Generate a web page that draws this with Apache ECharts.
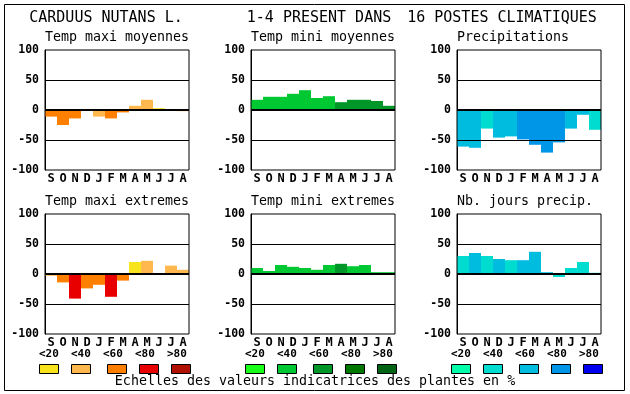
<!DOCTYPE html>
<html>
<head>
<meta charset="utf-8">
<script src="https://cdn.jsdelivr.net/npm/echarts@6/dist/echarts.min.js"></script>
<style>
html,body{margin:0;padding:0;background:#fff;}
#chart{width:630px;height:394px;}
</style>
</head>
<body>
<div id="chart"></div>
<script>
// ---- data ----
const months = ['S','O','N','D','J','F','M','A','M','J','J','A'];
const classLabels = ['<20','<40','<60','<80','>80'];
const mainTitles = ['CARDUUS NUTANS L.', '1-4 PRESENT DANS', '16 POSTES CLIMATIQUES'];
const panelTitles = ['Temp maxi moyennes','Temp mini moyennes','Precipitations',
                     'Temp maxi extremes','Temp mini extremes','Nb. jours precip.'];
const footNote = 'Echelles des valeurs indicatrices des plantes en %';

const tmaxMoy    = [-11,-25,-14,0,-11,-14,-4,7,17,3,0,-2];
const tmaxMoyCls = [2,2,2,0,1,2,2,1,1,0,0,1];
const tminMoy    = [17,22,22,27,33,20,23,13,17,17,15,7];
const tminMoyCls = [1,1,1,1,1,1,1,2,2,2,2,2];
const precip     = [-61,-63,-31,-46,-44,-49,-58,-71,-54,-31,-8,-33];
const precipCls  = [2,2,1,2,2,3,3,3,3,2,2,1];
const tmaxExt    = [-3,-14,-41,-24,-18,-38,-11,20,22,0,14,7];
const tmaxExtCls = [1,2,3,2,2,3,2,0,1,0,1,1];
const tminExt    = [10,5,15,12,10,7,15,17,13,15,3,3];
const tminExtCls = [1,1,1,1,1,1,1,2,1,1,1,1];
const nbJours    = [30,35,30,25,23,23,37,3,-5,10,20,2];
const nbJoursCls = [1,2,1,2,1,2,2,2,1,1,1,1];

// ---- styles ----
const warm  = ['#f8e41c','#ffb84d','#ff8000','#e80000','#b01000'];
const green = ['#1aff1a','#00c832','#009628','#007800','#006414'];
const blue  = ['#00ffaa','#00dcd0','#00bde0','#0096e8','#0000f0'];
const FONT = '"DejaVu Sans Mono", monospace';

const panels = [
  {vals: tmaxMoy, cls: tmaxMoyCls, pal: warm},
  {vals: tminMoy, cls: tminMoyCls, pal: green},
  {vals: precip,  cls: precipCls,  pal: blue},
  {vals: tmaxExt, cls: tmaxExtCls, pal: warm},
  {vals: tminExt, cls: tminExtCls, pal: green},
  {vals: nbJours, cls: nbJoursCls, pal: blue}
];
const colLeft = [45, 251, 457];
const rowTop = [50, 214];
const PW = 144, PH = 120;

const grids = [], xAxes = [], yAxes = [], series = [];
panels.forEach((p, i) => {
  const c = i % 3, r = Math.floor(i / 3);
  grids.push({left: colLeft[c], top: rowTop[r], width: PW, height: PH,
    show: true, borderColor: '#000', borderWidth: 1, backgroundColor: 'transparent', z: 5});
  xAxes.push({type: 'category', gridIndex: i, data: months,
    axisLine: {show: false}, axisTick: {show: false},
    axisLabel: {interval: 0, margin: 3, color: '#000', fontFamily: FONT, fontWeight: 'bold', fontSize: 12}});
  yAxes.push({type: 'value', gridIndex: i, min: -100, max: 100, interval: 50,
    axisLine: {show: true, lineStyle: {color: '#000', width: 1}}, axisTick: {show: false},
    splitLine: {show: false},
    axisLabel: {margin: 6, color: '#000', fontFamily: FONT, fontWeight: 'bold', fontSize: 11.5}});
  series.push({type: 'bar', xAxisIndex: i, yAxisIndex: i, barCategoryGap: 0,
    data: p.vals.map((v, k) => ({value: v, itemStyle: {color: p.pal[p.cls[k]]}})),
    markLine: {silent: true, symbol: 'none', animation: false, label: {show: false},
      lineStyle: {color: '#000', type: 'solid', width: 1},
      data: [{yAxis: 50}, {yAxis: 0, lineStyle: {color: '#000', type: 'solid', width: 2}}, {yAxis: -50}]}
  });
});

const graphics = [];
graphics.push({type: 'rect', shape: {x: 4.5, y: 4.5, width: 620, height: 386},
  style: {fill: 'none', stroke: '#000', lineWidth: 1}});
const titleX = [106, 319, 502];
mainTitles.forEach((t, i) => graphics.push({type: 'text', x: titleX[i], y: 18,
  style: {text: t, font: '15px ' + FONT, fill: '#000', align: 'center', verticalAlign: 'middle',
          textAlign: 'center', textVerticalAlign: 'middle'}}));
panelTitles.forEach((t, i) => {
  const c = i % 3, r = Math.floor(i / 3);
  graphics.push({type: 'text', x: colLeft[c], y: rowTop[r] - 12,
    style: {text: t, font: '13.3px ' + FONT, fill: '#000', align: 'left', verticalAlign: 'middle',
            textAlign: 'left', textVerticalAlign: 'middle'}});
});
const boxOff = [0, 32, 68, 100, 132];
const pals = [warm, green, blue];
colLeft.forEach((lx, c) => {
  classLabels.forEach((lab, k) => {
    graphics.push({type: 'text', x: lx - 6 + 32 * k, y: 354,
      style: {text: lab, font: 'bold 11px ' + FONT, fill: '#000', align: 'left', verticalAlign: 'middle',
              textAlign: 'left', textVerticalAlign: 'middle'}});
    graphics.push({type: 'rect', shape: {x: lx - 6 + boxOff[k] + 0.5, y: 364.5, width: 19, height: 9},
      style: {fill: pals[c][k], stroke: '#000', lineWidth: 1}});
  });
});
graphics.push({type: 'text', x: 315, y: 382,
  style: {text: footNote, font: '13.3px ' + FONT, fill: '#000', align: 'center', verticalAlign: 'middle',
          textAlign: 'center', textVerticalAlign: 'middle'}});

const chart = echarts.init(document.getElementById('chart'), null, {renderer: 'canvas'});
chart.setOption({
  animation: false,
  backgroundColor: '#fff',
  grid: grids, xAxis: xAxes, yAxis: yAxes, series: series,
  graphic: graphics
});
</script>
</body>
</html>
